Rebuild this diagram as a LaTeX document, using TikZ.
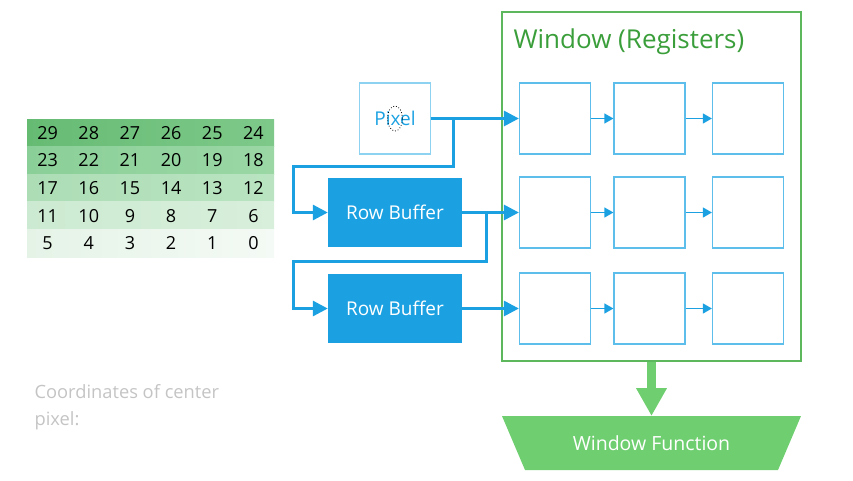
\documentclass[tikz,border=0pt]{standalone}
\usepackage{fontspec}
\setmainfont{Open Sans}
\usetikzlibrary{shapes.geometric,arrows.meta,positioning,calc}

\definecolor{busblue}{HTML}{1BA1E2}
\definecolor{regline}{HTML}{5DBDEB}
\definecolor{pixline}{HTML}{8ED2F2}
\definecolor{winline}{HTML}{5DB85D}
\definecolor{wintext}{HTML}{3A9E3A}
\definecolor{funcgreen}{HTML}{6FCF70}
\definecolor{notegray}{HTML}{C4C4C4}
\definecolor{rowL0}{HTML}{66BB73}\definecolor{rowR0}{HTML}{7EC98A}
\definecolor{rowL1}{HTML}{8BCF98}\definecolor{rowR1}{HTML}{9AD7A5}
\definecolor{rowL2}{HTML}{ACDDB5}\definecolor{rowR2}{HTML}{BAE4C1}
\definecolor{rowL3}{HTML}{CCEAD1}\definecolor{rowR3}{HTML}{D8EFDB}
\definecolor{rowL4}{HTML}{E5F3E7}\definecolor{rowR4}{HTML}{F4FAF5}

\begin{document}
\begin{tikzpicture}[x=1pt, y=-1pt]
    % Define styles
    \tikzstyle{register} = [rectangle, draw=regline, line width=1.2pt, minimum width=71pt, minimum height=71pt, inner sep=0pt]
    \tikzstyle{pixbox} = [register, draw=pixline, text=busblue, font=\fontsize{19}{22}\selectfont]
    \tikzstyle{rowbuf} = [rectangle, fill=busblue, text=white, minimum width=134pt, minimum height=69pt, font=\fontsize{19}{22}\selectfont]
    \tikzstyle{winframe} = [rectangle, draw=winline, line width=1.2pt, minimum width=299pt, minimum height=349pt]
    \tikzstyle{winfunc} = [rectangle, text=white, minimum width=253pt, minimum height=54pt, inner sep=0pt, font=\fontsize{19.5}{22}\selectfont]
    \tikzstyle{cellnum} = [font=\fontsize{18}{20}\selectfont, text=black]
    \tikzstyle{bus} = [busblue, line width=3pt, -{Triangle[length=15pt,width=15pt]}]
    \tikzstyle{regshift} = [busblue, line width=1.2pt, -{Triangle[length=9pt,width=10pt]}]
    \tikzstyle{fatarrow} = [funcgreen, line width=9pt, -{Triangle[length=28pt,width=29pt]}]

    \useasboundingbox (0,0) rectangle (853,480);

    % Pixel numbering
    \foreach \r in {0,...,4}{
        \shade[left color=rowL\r, right color=rowR\r] (27,{119+27.6*\r}) rectangle (274,{119+27.6*(\r+1)});
        \foreach \c in {0,...,5}{
            \pgfmathtruncatemacro{\n}{29-6*\r-\c}
            \node[cellnum] (t\n) at ({27+41.17*(\c+0.5)},{119+27.6*(\r+0.5)}) {\n};
        }
    }
    \node[anchor=north west, align=left, text=notegray, font=\fontsize{18.3}{27}\selectfont] (note) at (31,381) {Coordinates of center\\pixel:};

    % Window registers
    \node[winframe] (window) at (651.5,186.5) {};
    \node[anchor=west, text=wintext, font=\fontsize{26}{30}\selectfont] (wintitle) at (510,41.5) {Window (Registers)};
    \foreach \i/\y in {1/118.5,2/212.5,3/308.5}{
        \foreach \j/\x in {1/555,2/649.5,3/748}
            \node[register] (r\i\j) at (\x,\y) {};
        \draw[regshift] (r\i1) -- (r\i2);
        \draw[regshift] (r\i2) -- (r\i3);
    }

    % Input and row buffers
    \node[pixbox] (pixel) at (395,118.5) {Pixel};
    \node[ellipse, draw=black, dotted, line width=0.8pt, minimum width=15pt, minimum height=25pt, inner sep=0pt] (cursor) at (395,118.5) {};
    \node[rowbuf] (buf1) at (395,212.5) {Row Buffer};
    \node[rowbuf] (buf2) at (395,308.5) {Row Buffer};

    % Window function
    \coordinate (ftop) at (651.5,416);
    \fill[funcgreen] (502,416) -- (801,416) -- (778,470) -- (525,470) -- cycle;
    \node[winfunc] (wfunc) at (651.5,443) {Window Function};

    % Arrows
    \coordinate (b1) at ($(pixel.east)!0.25!(r11.west)$);
    \coordinate (b2) at ($(buf1.east)!0.42!(r21.west)$);
    \draw[bus] (pixel) -- (r11);
    \draw[bus] (buf1) -- (r21);
    \draw[bus] (buf2) -- (r31);
    \draw[bus] (b1) -- ++(0,48) -- ++(-160,0) |- (buf1.west);
    \draw[bus] (b2) -- ++(0,49) -- ++(-193,0) |- (buf2.west);
    \draw[fatarrow] (window.south) -- (ftop);
\end{tikzpicture}
\end{document}
